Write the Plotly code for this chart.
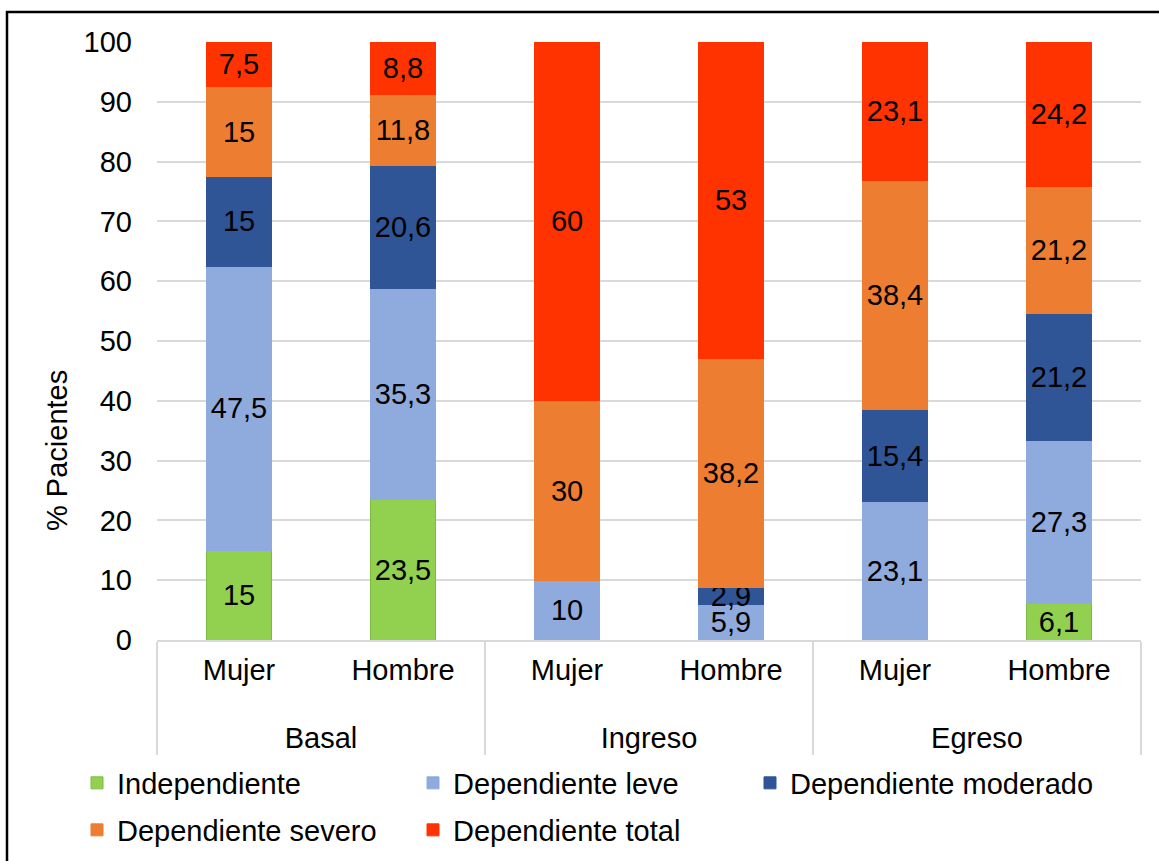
import plotly.graph_objects as go

groups = ["Basal", "Basal", "Ingreso", "Ingreso", "Egreso", "Egreso"]
sexes = ["Mujer", "Hombre", "Mujer", "Hombre", "Mujer", "Hombre"]

series_names = ["Independiente", "Dependiente leve", "Dependiente moderado",
                "Dependiente severo", "Dependiente total"]
independiente = [15, 23.5, 0, 0, 0, 6.1]
leve = [47.5, 35.3, 10, 5.9, 23.1, 27.3]
moderado = [15, 20.6, 0, 2.9, 15.4, 21.2]
severo = [15, 11.8, 30, 38.2, 38.4, 21.2]
total = [7.5, 8.8, 60, 53, 23.1, 24.2]

colors = ["#92D050", "#8FAADC", "#2F5597", "#ED7D31", "#FF3300"]
line_colors = ["#7DBB45", "#8FAADC", "#2F5597", "#ED7D31", "#FF3300"]

FONT = "Liberation Sans, Arial, sans-serif"
FS = 29

W, H = 1159, 861
L, R, T, B = 157, 18, 42, 221
pw, ph = W - L - R, H - T - B


def px_x(px):
    return (px - L) / pw


def px_y(py):
    return (H - B - py) / ph


def fmt(v):
    return "" if v == 0 else f"{v:g}".replace(".", ",")


# legend placement (text start x, row center y) in pixels
legend_pos = [(117, 783), (453, 783), (790, 783), (117, 830), (453, 830)]
legend_ids = ["legend", "legend2", "legend3", "legend4", "legend5"]

fig = go.Figure()
for name, vals, c, lc, lg in zip(series_names,
                                 [independiente, leve, moderado, severo, total],
                                 colors, line_colors, legend_ids):
    fig.add_trace(go.Bar(
        x=[["<br>" + g for g in groups], sexes], y=vals, name=name,
        marker=dict(color=c, line=dict(color=lc, width=1)),
        text=[fmt(v) for v in vals],
        textposition="inside", insidetextanchor="middle",
        constraintext="none", textangle=0,
        textfont=dict(family=FONT, size=FS, color="black"),
        legend=lg, hoverinfo="skip",
    ))

legends = {}
for lg, (tx, ty) in zip(legend_ids, legend_pos):
    legends[lg] = dict(orientation="h", x=px_x(tx - 40), xanchor="left",
                       y=px_y(ty), yanchor="middle",
                       font=dict(size=FS), bgcolor="rgba(0,0,0,0)")

fig.update_layout(
    barmode="stack", bargap=0.6,
    width=W, height=H,
    margin=dict(l=L, r=R, t=T, b=B, autoexpand=False),
    paper_bgcolor="white", plot_bgcolor="white",
    font=dict(family=FONT, size=FS, color="black"),
    showlegend=True,
    yaxis=dict(range=[0, 100], dtick=10, showgrid=True, gridcolor="#D9D9D9",
               gridwidth=1.5, zeroline=False, showline=False, ticks="",
               ticklabelstandoff=24, tickfont=dict(size=FS), automargin=False),
    xaxis=dict(type="multicategory", showline=True, linecolor="#D9D9D9",
               linewidth=1.5, showdividers=True, dividercolor="#D9D9D9",
               dividerwidth=1.5, ticks="", ticklabelstandoff=3,
               tickfont=dict(size=FS), automargin=False),
    annotations=[dict(text="% Pacientes", x=px_x(57), y=px_y(451),
                      xref="paper", yref="paper", textangle=-90,
                      showarrow=False, font=dict(size=FS),
                      xanchor="center", yanchor="middle")],
    shapes=[dict(type="rect", xref="paper", yref="paper",
                 x0=px_x(7), x1=px_x(1170), y0=px_y(12), y1=px_y(880),
                 line=dict(color="black", width=2.5), fillcolor="rgba(0,0,0,0)",
                 layer="above")],
    **legends,
)

fig.write_html("out.html")
